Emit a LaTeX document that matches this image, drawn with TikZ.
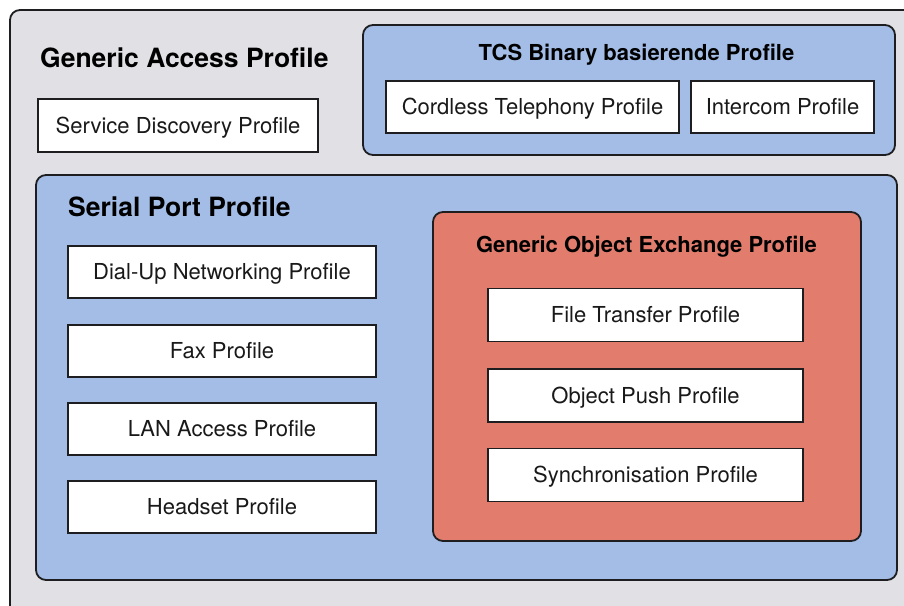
\documentclass[tikz,border=0pt]{standalone}
\usepackage{fontspec}
\setmainfont{TeX Gyre Heros}
\definecolor{gapgray}{RGB}{225,224,229}
\definecolor{profblue}{RGB}{163,189,230}
\definecolor{obexred}{RGB}{226,125,110}
\definecolor{edge}{RGB}{30,30,32}
\tikzset{
  panel/.style={draw=edge, line width=1.8pt, rounded corners=10pt},
  profbox/.style={draw=edge, line width=1.8pt, fill=white, inner sep=0pt,
    text height=15.8pt, text depth=0pt,
    font=\fontsize{22}{24}\selectfont, text=black!90},
  bigtitle/.style={inner sep=0pt, text height=19pt, text depth=0pt,
    font=\fontsize{26.5}{30}\selectfont\bfseries, anchor=west},
  subtitle/.style={inner sep=0pt, text height=15.8pt, text depth=0pt,
    font=\fontsize{22}{26}\selectfont\bfseries},
}
\begin{document}
\begin{tikzpicture}[x=1pt,y=-1pt]
\useasboundingbox (0,0) rectangle (904,605);
\fill[white] (0,0) rectangle (904,605);
\clip (0,0) rectangle (904,605);

% Generic Access Profile (outermost, runs past the page edges)
\draw[panel, fill=gapgray] (10,10) rectangle (960,660);
\node[bigtitle] (gaptitle) at (40,57.5) {Generic Access Profile};
\node[profbox, minimum width=280pt, minimum height=53pt] (sdp) at (178,125.5) {Service Discovery Profile};

% TCS Binary group
\draw[panel, fill=profblue] (363,25) rectangle (895,155);
\node[subtitle] (tcstitle) at (636.5,53) {TCS Binary basierende Profile};
\node[profbox, minimum width=293pt, minimum height=52pt] (ctp) at (532.5,107) {Cordless Telephony Profile};
\node[profbox, minimum width=183pt, minimum height=52pt] (icp) at (782.5,107) {Intercom Profile};

% Serial Port Profile group
\draw[panel, fill=profblue] (36,175) rectangle (897,580);
\node[bigtitle] (spptitle) at (68,206.5) {Serial Port Profile};
\node[profbox, minimum width=308pt, minimum height=52pt] (dun) at (222,272) {Dial-Up Networking Profile};
\node[profbox, minimum width=308pt, minimum height=52pt] (fax) at (222,351) {Fax Profile};
\node[profbox, minimum width=308pt, minimum height=52pt] (lan) at (222,429) {LAN Access Profile};
\node[profbox, minimum width=308pt, minimum height=52pt] (hsp) at (222,507) {Headset Profile};

% Generic Object Exchange Profile group
\draw[panel, fill=obexred] (433,212) rectangle (861,541);
\node[subtitle] (goeptitle) at (646.5,245) {Generic Object Exchange Profile};
\node[profbox, minimum width=315pt, minimum height=53pt] (ftp) at (645.5,315) {File Transfer Profile};
\node[profbox, minimum width=315pt, minimum height=53pt] (opp) at (645.5,395.5) {Object Push Profile};
\node[profbox, minimum width=315pt, minimum height=53pt] (sync) at (645.5,475) {Synchronisation Profile};
\end{tikzpicture}
\end{document}
